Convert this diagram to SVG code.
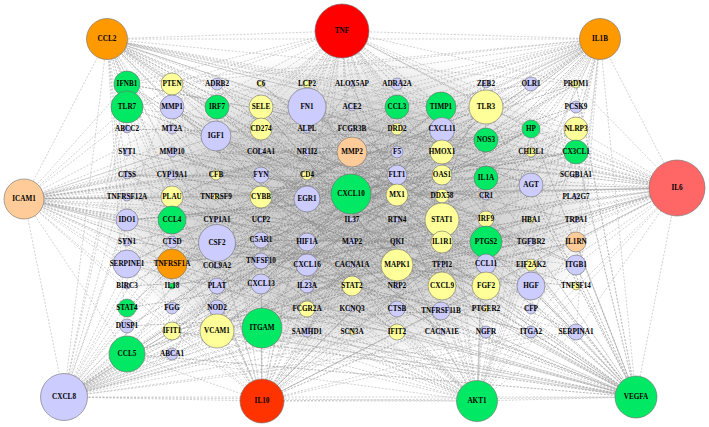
<svg xmlns="http://www.w3.org/2000/svg" width="709" height="427" viewBox="0 0 709 427">
<style>
.e{fill:none;stroke:#a2a2a2;stroke-width:.5;stroke-dasharray:2 1.5;stroke-linejoin:round}
.i{fill:none;stroke:#8a8a8a;stroke-width:.6;stroke-dasharray:2 1.2;stroke-linejoin:round}
circle{stroke:#6e6e6e;stroke-width:.6}
.g{fill:#00e864}.y{fill:#ffff99}.p{fill:#ccccff}.o{fill:#ff9900}.k{fill:#ffcc99}
text{font-family:"Liberation Serif","Times New Roman",serif;font-weight:bold;font-size:7.2px;text-anchor:middle;dominant-baseline:central;fill:#000}
</style>
<defs>
<radialGradient id="dens" cx="0.5" cy="0.5" r="0.5">
<stop offset="0" stop-color="#b3b3b3" stop-opacity="0.75"/>
<stop offset="0.6" stop-color="#bdbdbd" stop-opacity="0.62"/>
<stop offset="0.85" stop-color="#cccccc" stop-opacity="0.35"/>
<stop offset="1" stop-color="#dddddd" stop-opacity="0"/>
</radialGradient>
</defs>
<rect width="709" height="427" fill="#fff"/>
<g id="connectors">
<ellipse cx="350" cy="207" rx="260" ry="158" fill="url(#dens)"/>
<path class="e" d="M107 39L342 31M342 31L600 39M107 39L600 39M107 39L24 199M24 199L64 397M64 397L262 401M262 401L477 401M477 401L636 397M636 397L677 188M677 188L600 39M107 39L677 188M107 39L64 397M107 39L262 401M107 39L477 401M107 39L636 397M342 31L24 199M342 31L677 188M342 31L64 397M342 31L262 401M342 31L477 401M342 31L636 397M600 39L24 199M600 39L64 397M600 39L262 401M600 39L477 401M600 39L636 397M24 199L677 188M24 199L262 401M24 199L477 401M24 199L636 397M677 188L64 397M677 188L262 401M677 188L477 401M64 397L477 401M64 397L636 397M262 401L636 397"/>
<path class="e" d="M107 39L127 84 342 31 127 107 107 39 127 175 342 31 127 220 107 39 127 264 342 31 127 354 107 39 172 84 342 31 172 197 107 39 172 264 342 31 172 331 107 39 217 136 342 31 217 243 107 39 217 331 342 31 261 107 107 39 261 197 342 31 261 284 107 39 261 329 342 31 307 107 107 39 307 199 342 31 307 265 107 39 307 332 342 31 352 152 107 39 352 194 342 31 352 286 107 39 397 107 342 31 397 195 107 39 397 265 342 31 397 332 107 39 442 107 342 31 442 152 107 39 442 220 342 31 442 286 107 39 486 107 342 31 486 138 107 39 486 178 342 31 486 242 107 39 486 286 342 31 531 129 107 39 531 185 342 31 531 286 107 39 531 332 342 31 576 84 107 39 576 129 342 31 576 152 107 39 576 242 342 31 576 265 107 39 576 332 342 31"/>
<path class="e" d="M600 39L127 84 677 188 127 107 600 39 127 175 677 188 127 220 600 39 127 264 677 188 127 354 600 39 172 84 677 188 172 197 600 39 172 264 677 188 172 331 600 39 217 136 677 188 217 243 600 39 217 331 677 188 261 107 600 39 261 197 677 188 261 284 600 39 261 329 677 188 307 107 600 39 307 199 677 188 307 265 600 39 307 332 677 188 352 152 600 39 352 194 677 188 352 286 600 39 397 107 677 188 397 195 600 39 397 265 677 188 397 332 600 39 442 107 677 188 442 152 600 39 442 220 677 188 442 286 600 39 486 107 677 188 486 138 600 39 486 178 677 188 486 242 600 39 486 286 677 188 531 129 600 39 531 185 677 188 531 286 600 39 531 332 677 188 576 84 600 39 576 129 677 188 576 152 600 39 576 242 677 188 576 265 600 39 576 332 677 188"/>
<path class="e" d="M24 199L127 84 64 397 127 107 24 199 127 175 64 397 127 220 24 199 127 264 64 397 127 354 24 199 172 84 64 397 172 197 24 199 172 264 64 397 172 331 24 199 217 136 64 397 217 243 24 199 217 331 64 397 261 107 24 199 261 197 64 397 261 284 24 199 261 329 64 397 307 107 24 199 307 199 64 397 307 265 24 199 307 332 64 397 352 152 24 199 352 194 64 397 352 286 24 199 397 107 64 397 397 195 24 199 397 265 64 397 397 332 24 199 442 107 64 397 442 152 24 199 442 220 64 397 442 286 24 199 486 107 64 397 486 138 24 199 486 178 64 397 486 242 24 199 486 286 64 397 531 129 24 199 531 185 64 397 531 286 24 199 531 332 64 397 576 84 24 199 576 129 64 397 576 152 24 199 576 242 64 397 576 265 24 199 576 332 64 397"/>
<path class="e" d="M262 401L127 84 477 401 127 107 262 401 127 175 477 401 127 220 262 401 127 264 477 401 127 354 262 401 172 84 477 401 172 197 262 401 172 264 477 401 172 331 262 401 217 136 477 401 217 243 262 401 217 331 477 401 261 107 262 401 261 197 477 401 261 284 262 401 261 329 477 401 307 107 262 401 307 199 477 401 307 265 262 401 307 332 477 401 352 152 262 401 352 194 477 401 352 286 262 401 397 107 477 401 397 195 262 401 397 265 477 401 397 332 262 401 442 107 477 401 442 152 262 401 442 220 477 401 442 286 262 401 486 107 477 401 486 138 262 401 486 178 477 401 486 242 262 401 486 286 477 401 531 129 262 401 531 185 477 401 531 286 262 401 531 332 477 401 576 84 262 401 576 129 477 401 576 152 262 401 576 242 477 401 576 265 262 401 576 332 477 401"/>
<path class="e" d="M636 397L127 84 636 397 127 175 636 397 127 264 636 397 127 354 636 397 172 84 636 397 172 264 636 397 172 331 636 397 217 243 636 397 217 331 636 397 261 197 636 397 261 329 636 397 307 107 636 397 307 265 636 397 307 332 636 397 352 194 636 397 352 286 636 397 397 107 636 397 397 265 636 397 397 332 636 397 442 152 636 397 442 220 636 397 442 286 636 397 486 107 636 397 486 178 636 397 486 242 636 397 486 286 636 397 531 129 636 397 531 185 636 397 531 286 636 397 531 332 636 397 576 84 636 397 576 152 636 397 576 242 636 397 576 265 636 397 576 332"/>
<path class="i" d="M127 107L442 220 172 264 576 129 261 329 397 107 217 243 531 286 307 107 486 242 127 264 352 152 576 265 172 107 442 286 261 197 486 107 217 331 397 195 127 220 531 185 307 265 442 129 172 331 576 242 352 286 217 136 486 286 261 107 397 265 127 354 442 152 307 199 576 152 172 220 531 129 261 284 352 194 127 175 486 178 217 197 442 332 307 84 576 332 172 152 397 242 261 240 531 242 127 308 352 107 486 332 217 84 442 175 307 309 576 197 172 286 397 152 261 152 486 138 127 129"/>
<path class="i" d="M172 84L486 265 217 220 576 107 307 242 127 197 442 242 261 261 531 332 352 220 172 175 397 309 486 84 217 286 531 152 127 242 352 265 576 286 261 175 442 107 307 332 172 242 486 196 217 175 397 129 127 286 531 265 261 220 442 309 352 84 172 354 576 175 307 152 486 219 127 152 397 332 217 308 531 84 261 129 442 265 352 332 172 129 576 220 307 286 486 309 127 326 397 175 217 266 531 220 261 308 442 197 352 129 172 309 576 84 307 175 486 152 127 84 397 286 217 107"/>
<path class="i" d="M217 136L352 194 261 284 442 129 307 199 486 242 352 152 217 243 397 265 261 107 442 220 307 265 172 197 397 107 352 286 486 107 261 197 442 286 217 331 352 107 531 185 307 107 397 195 261 329 486 178 172 264 442 152 307 332 352 242 576 152 217 197 397 332 261 152 486 286 307 220 442 332 172 107 352 220 531 129 261 242 442 107 217 286 397 220 307 152 486 220 352 332 261 265 442 175 217 152 397 152 307 286 531 242 172 152 352 175 486 265 261 84 442 242 307 129 397 286"/>
</g>
<g id="nodes">
<g id="CCL2"><circle class="o" cx="107" cy="39" r="20.5"/><text x="107" y="39">CCL2</text></g>
<g id="TNF"><circle fill="#ff0000" cx="342" cy="31" r="27"/><text x="342" y="31">TNF</text></g>
<g id="IL1B"><circle class="o" cx="600" cy="39" r="20.5"/><text x="600" y="39">IL1B</text></g>
<g id="ICAM1"><circle class="k" cx="24" cy="199" r="20"/><text x="24" y="199">ICAM1</text></g>
<g id="IL6"><circle fill="#ff6666" cx="677" cy="188" r="28"/><text x="677" y="188">IL6</text></g>
<g id="CXCL8"><circle class="p" cx="64" cy="397" r="23.5"/><text x="64" y="397">CXCL8</text></g>
<g id="IL10"><circle fill="#ff3300" cx="262" cy="401" r="22"/><text x="262" y="401">IL10</text></g>
<g id="AKT1"><circle class="g" cx="477" cy="401" r="20.5"/><text x="477" y="401">AKT1</text></g>
<g id="VEGFA"><circle class="g" cx="636" cy="397" r="21"/><text x="636" y="397">VEGFA</text></g>

<g id="IFNB1"><circle class="g" cx="127" cy="84" r="13"/><text x="127" y="84">IFNB1</text></g>
<g id="TLR7"><circle class="g" cx="127" cy="107" r="16"/><text x="127" y="107">TLR7</text></g>
<g id="ABCC2"><circle class="p" cx="127" cy="129" r="4"/><text x="127" y="129">ABCC2</text></g>
<g id="SYT1"><circle class="p" cx="127" cy="152" r="4"/><text x="127" y="152">SYT1</text></g>
<g id="CTSS"><circle class="p" cx="127" cy="175" r="4"/><text x="127" y="175">CTSS</text></g>
<g id="TNFRSF12A"><circle class="p" cx="127" cy="197" r="4"/><text x="127" y="197">TNFRSF12A</text></g>
<g id="IDO1"><circle class="p" cx="127" cy="220" r="11"/><text x="127" y="220">IDO1</text></g>
<g id="SYN1"><circle class="p" cx="127" cy="242" r="4"/><text x="127" y="242">SYN1</text></g>
<g id="SERPINE1"><circle class="p" cx="127" cy="264" r="14"/><text x="127" y="264">SERPINE1</text></g>
<g id="BIRC3"><circle class="p" cx="127" cy="286" r="3"/><text x="127" y="286">BIRC3</text></g>
<g id="STAT4"><circle class="g" cx="127" cy="308" r="9"/><text x="127" y="308">STAT4</text></g>
<g id="DUSP1"><circle class="p" cx="127" cy="326" r="7"/><text x="127" y="326">DUSP1</text></g>
<g id="CCL5"><circle class="g" cx="127" cy="354" r="18"/><text x="127" y="354">CCL5</text></g>

<g id="PTEN"><circle class="y" cx="172" cy="84" r="11"/><text x="172" y="84">PTEN</text></g>
<g id="MMP1"><circle class="p" cx="172" cy="107" r="12"/><text x="172" y="107">MMP1</text></g>
<g id="MT2A"><circle class="p" cx="172" cy="129" r="5"/><text x="172" y="129">MT2A</text></g>
<g id="MMP10"><circle class="p" cx="172" cy="152" r="5"/><text x="172" y="152">MMP10</text></g>
<g id="CYP19A1"><circle class="p" cx="172" cy="175" r="5"/><text x="172" y="175">CYP19A1</text></g>
<g id="PLAU"><circle class="y" cx="172" cy="197" r="11"/><text x="172" y="197">PLAU</text></g>
<g id="CCL4"><circle class="g" cx="172" cy="220" r="14"/><text x="172" y="220">CCL4</text></g>
<g id="CTSD"><circle class="p" cx="172" cy="242" r="6"/><text x="172" y="242">CTSD</text></g>
<g id="TNFRSF1A"><circle class="o" cx="172" cy="264" r="15"/><text x="172" y="264">TNFRSF1A</text></g>
<g id="IL18"><circle class="g" cx="172" cy="286" r="3"/><text x="172" y="286">IL18</text></g>
<g id="FGG"><circle class="p" cx="172" cy="308" r="6"/><text x="172" y="308">FGG</text></g>
<g id="IFIT1"><circle class="y" cx="172" cy="331" r="9"/><text x="172" y="331">IFIT1</text></g>
<g id="ABCA1"><circle class="p" cx="172" cy="354" r="6"/><text x="172" y="354">ABCA1</text></g>

<g id="ADRB2"><circle class="p" cx="217" cy="84" r="6"/><text x="217" y="84">ADRB2</text></g>
<g id="IRF7"><circle class="g" cx="217" cy="107" r="12"/><text x="217" y="107">IRF7</text></g>
<g id="IGF1"><circle class="p" cx="216" cy="136" r="15"/><text x="216" y="136">IGF1</text></g>
<g id="CFB"><circle class="y" cx="216" cy="175" r="5"/><text x="216" y="175">CFB</text></g>
<g id="TNFRSF9"><circle class="y" cx="216" cy="197" r="3"/><text x="216" y="197">TNFRSF9</text></g>
<g id="CYP1A1"><circle class="p" cx="217" cy="220" r="3"/><text x="217" y="220">CYP1A1</text></g>
<g id="CSF2"><circle class="p" cx="217" cy="243" r="18.5"/><text x="217" y="243">CSF2</text></g>
<g id="COL9A2"><circle class="p" cx="217" cy="266" r="3"/><text x="217" y="266">COL9A2</text></g>
<g id="PLAT"><circle class="p" cx="217" cy="286" r="8"/><text x="217" y="286">PLAT</text></g>
<g id="NOD2"><circle class="p" cx="217" cy="308" r="8"/><text x="217" y="308">NOD2</text></g>
<g id="VCAM1"><circle class="y" cx="217" cy="331" r="17"/><text x="217" y="331">VCAM1</text></g>

<g id="C6"><circle class="y" cx="261" cy="84" r="3"/><text x="261" y="84">C6</text></g>
<g id="SELE"><circle class="y" cx="261" cy="107" r="12"/><text x="261" y="107">SELE</text></g>
<g id="CD274"><circle class="y" cx="261" cy="129" r="11"/><text x="261" y="129">CD274</text></g>
<g id="COL4A1"><circle class="p" cx="261" cy="152" r="3"/><text x="261" y="152">COL4A1</text></g>
<g id="FYN"><circle class="p" cx="261" cy="175" r="8"/><text x="261" y="175">FYN</text></g>
<g id="CYBB"><circle class="y" cx="261" cy="197" r="11"/><text x="261" y="197">CYBB</text></g>
<g id="UCP2"><circle class="p" cx="261" cy="220" r="3"/><text x="261" y="220">UCP2</text></g>
<g id="C5AR1"><circle class="p" cx="261" cy="240" r="8"/><text x="261" y="240">C5AR1</text></g>
<g id="TNFSF10"><circle class="p" cx="261" cy="261" r="8"/><text x="261" y="261">TNFSF10</text></g>
<g id="CXCL13"><circle class="p" cx="261" cy="284" r="10"/><text x="261" y="284">CXCL13</text></g>
<g id="ITGAM"><circle class="g" cx="262" cy="328" r="20"/><text x="262" y="328">ITGAM</text></g>

<g id="LCP2"><circle class="y" cx="307" cy="84" r="4"/><text x="307" y="84">LCP2</text></g>
<g id="FN1"><circle class="p" cx="307" cy="107" r="19"/><text x="307" y="107">FN1</text></g>
<g id="ALPL"><circle class="p" cx="307" cy="129" r="4"/><text x="307" y="129">ALPL</text></g>
<g id="NR1I2"><circle class="p" cx="307" cy="152" r="4"/><text x="307" y="152">NR1I2</text></g>
<g id="CD4"><circle class="y" cx="307" cy="175" r="5"/><text x="307" y="175">CD4</text></g>
<g id="EGR1"><circle class="p" cx="307" cy="199" r="13"/><text x="307" y="199">EGR1</text></g>
<g id="HIF1A"><circle class="p" cx="307" cy="242" r="9"/><text x="307" y="242">HIF1A</text></g>
<g id="CXCL16"><circle class="p" cx="307" cy="265" r="11"/><text x="307" y="265">CXCL16</text></g>
<g id="IL23A"><circle class="p" cx="307" cy="286" r="7"/><text x="307" y="286">IL23A</text></g>
<g id="FCGR2A"><circle class="y" cx="307" cy="309" r="8"/><text x="307" y="309">FCGR2A</text></g>
<g id="SAMHD1"><circle class="p" cx="307" cy="332" r="5"/><text x="307" y="332">SAMHD1</text></g>

<g id="ALOX5AP"><circle class="p" cx="352" cy="84" r="3"/><text x="352" y="84">ALOX5AP</text></g>
<g id="ACE2"><circle class="p" cx="352" cy="107" r="4"/><text x="352" y="107">ACE2</text></g>
<g id="FCGR3B"><circle class="p" cx="352" cy="129" r="3"/><text x="352" y="129">FCGR3B</text></g>
<g id="MMP2"><circle class="k" cx="352" cy="152" r="15"/><text x="352" y="152">MMP2</text></g>
<g id="CXCL10"><circle class="g" cx="351" cy="194" r="20"/><text x="351" y="194">CXCL10</text></g>
<g id="IL37"><circle class="p" cx="352" cy="220" r="3"/><text x="352" y="220">IL37</text></g>
<g id="MAP2"><circle class="p" cx="352" cy="242" r="4"/><text x="352" y="242">MAP2</text></g>
<g id="CACNA1A"><circle class="p" cx="352" cy="265" r="3"/><text x="352" y="265">CACNA1A</text></g>
<g id="STAT2"><circle class="y" cx="352" cy="286" r="10"/><text x="352" y="286">STAT2</text></g>
<g id="KCNQ3"><circle class="p" cx="352" cy="309" r="3"/><text x="352" y="309">KCNQ3</text></g>
<g id="SCN3A"><circle class="y" cx="352" cy="332" r="3"/><text x="352" y="332">SCN3A</text></g>

<g id="ADRA2A"><circle class="p" cx="397" cy="84" r="6"/><text x="397" y="84">ADRA2A</text></g>
<g id="CCL3"><circle class="g" cx="397" cy="107" r="12"/><text x="397" y="107">CCL3</text></g>
<g id="DRD2"><circle class="y" cx="397" cy="129" r="6"/><text x="397" y="129">DRD2</text></g>
<g id="F5"><circle class="p" cx="397" cy="152" r="6"/><text x="397" y="152">F5</text></g>
<g id="FLT1"><circle class="p" cx="397" cy="175" r="10"/><text x="397" y="175">FLT1</text></g>
<g id="MX1"><circle class="y" cx="397" cy="195" r="11"/><text x="397" y="195">MX1</text></g>
<g id="RTN4"><circle class="p" cx="397" cy="220" r="3"/><text x="397" y="220">RTN4</text></g>
<g id="QKI"><circle class="p" cx="397" cy="242" r="3"/><text x="397" y="242">QKI</text></g>
<g id="MAPK1"><circle class="y" cx="397" cy="265" r="16"/><text x="397" y="265">MAPK1</text></g>
<g id="NRP2"><circle class="p" cx="397" cy="286" r="3"/><text x="397" y="286">NRP2</text></g>
<g id="CTSB"><circle class="p" cx="397" cy="309" r="8"/><text x="397" y="309">CTSB</text></g>
<g id="IFIT2"><circle class="y" cx="397" cy="332" r="8"/><text x="397" y="332">IFIT2</text></g>

<g id="TIMP1"><circle class="g" cx="441" cy="107" r="15"/><text x="441" y="107">TIMP1</text></g>
<g id="CXCL11"><circle class="p" cx="442" cy="130" r="12.5"/><text x="442" y="129">CXCL11</text></g>
<g id="HMOX1"><circle class="y" cx="442" cy="152" r="12"/><text x="442" y="152">HMOX1</text></g>
<g id="OAS1"><circle class="y" cx="442" cy="175" r="10"/><text x="442" y="175">OAS1</text></g>
<g id="DDX58"><circle class="y" cx="442" cy="196" r="7"/><text x="442" y="196">DDX58</text></g>
<g id="STAT1"><circle class="y" cx="442" cy="220" r="17"/><text x="442" y="220">STAT1</text></g>
<g id="IL1R1"><circle class="y" cx="442" cy="242" r="11"/><text x="442" y="242">IL1R1</text></g>
<g id="TFPI2"><circle class="p" cx="442" cy="265" r="3"/><text x="442" y="265">TFPI2</text></g>
<g id="CXCL9"><circle class="y" cx="442" cy="286" r="14"/><text x="442" y="286">CXCL9</text></g>
<g id="TNFRSF11B"><circle class="p" cx="441" cy="311" r="9"/><text x="441" y="311">TNFRSF11B</text></g>
<g id="CACNA1E"><circle class="p" cx="442" cy="332" r="3"/><text x="442" y="332">CACNA1E</text></g>

<g id="ZEB2"><circle class="p" cx="486" cy="84" r="4"/><text x="486" y="84">ZEB2</text></g>
<g id="TLR3"><circle class="y" cx="486" cy="107" r="17"/><text x="486" y="107">TLR3</text></g>
<g id="NOS3"><circle class="g" cx="486" cy="140" r="12"/><text x="486" y="140">NOS3</text></g>
<g id="IL1A"><circle class="g" cx="486" cy="178" r="12"/><text x="486" y="178">IL1A</text></g>
<g id="CR1"><circle class="p" cx="486" cy="196" r="4"/><text x="486" y="196">CR1</text></g>
<g id="IRF9"><circle class="y" cx="486" cy="219" r="8"/><text x="486" y="219">IRF9</text></g>
<g id="PTGS2"><circle class="g" cx="486" cy="242" r="16"/><text x="486" y="242">PTGS2</text></g>
<g id="CCL11"><circle class="p" cx="486" cy="264" r="10"/><text x="486" y="264">CCL11</text></g>
<g id="FGF2"><circle class="y" cx="486" cy="286" r="14"/><text x="486" y="286">FGF2</text></g>
<g id="PTGER2"><circle class="y" cx="486" cy="309" r="3"/><text x="486" y="309">PTGER2</text></g>
<g id="NGFR"><circle class="p" cx="486" cy="332" r="6"/><text x="486" y="332">NGFR</text></g>

<g id="OLR1"><circle class="p" cx="531" cy="84" r="7"/><text x="531" y="84">OLR1</text></g>
<g id="HP"><circle class="g" cx="531" cy="129" r="9"/><text x="531" y="129">HP</text></g>
<g id="CHI3L1"><circle class="y" cx="531" cy="152" r="5"/><text x="531" y="152">CHI3L1</text></g>
<g id="AGT"><circle class="p" cx="531" cy="185" r="12"/><text x="531" y="185">AGT</text></g>
<g id="HBA1"><circle class="y" cx="531" cy="220" r="3"/><text x="531" y="220">HBA1</text></g>
<g id="TGFBR2"><circle class="p" cx="531" cy="242" r="4"/><text x="531" y="242">TGFBR2</text></g>
<g id="EIF2AK2"><circle class="y" cx="531" cy="265" r="6"/><text x="531" y="265">EIF2AK2</text></g>
<g id="HGF"><circle class="p" cx="531" cy="286" r="14"/><text x="531" y="286">HGF</text></g>
<g id="CFP"><circle class="p" cx="531" cy="309" r="5"/><text x="531" y="309">CFP</text></g>
<g id="ITGA2"><circle class="p" cx="531" cy="332" r="6"/><text x="531" y="332">ITGA2</text></g>

<g id="PRDM1"><circle class="y" cx="576" cy="84" r="4"/><text x="576" y="84">PRDM1</text></g>
<g id="PCSK9"><circle class="p" cx="576" cy="107" r="6"/><text x="576" y="107">PCSK9</text></g>
<g id="NLRP3"><circle class="y" cx="576" cy="129" r="12"/><text x="576" y="129">NLRP3</text></g>
<g id="CX3CL1"><circle class="g" cx="576" cy="152" r="12"/><text x="576" y="152">CX3CL1</text></g>
<g id="SCGB1A1"><circle class="p" cx="576" cy="175" r="3"/><text x="576" y="175">SCGB1A1</text></g>
<g id="PLA2G7"><circle class="p" cx="576" cy="197" r="3"/><text x="576" y="197">PLA2G7</text></g>
<g id="TRPA1"><circle class="p" cx="576" cy="220" r="3"/><text x="576" y="220">TRPA1</text></g>
<g id="IL1RN"><circle class="k" cx="576" cy="242" r="10"/><text x="576" y="242">IL1RN</text></g>
<g id="ITGB1"><circle class="p" cx="576" cy="265" r="10"/><text x="576" y="265">ITGB1</text></g>
<g id="TNFSF14"><circle class="y" cx="576" cy="286" r="4"/><text x="576" y="286">TNFSF14</text></g>
<g id="SERPINA1"><circle class="p" cx="576" cy="332" r="8"/><text x="576" y="332">SERPINA1</text></g>
</g>
</svg>
